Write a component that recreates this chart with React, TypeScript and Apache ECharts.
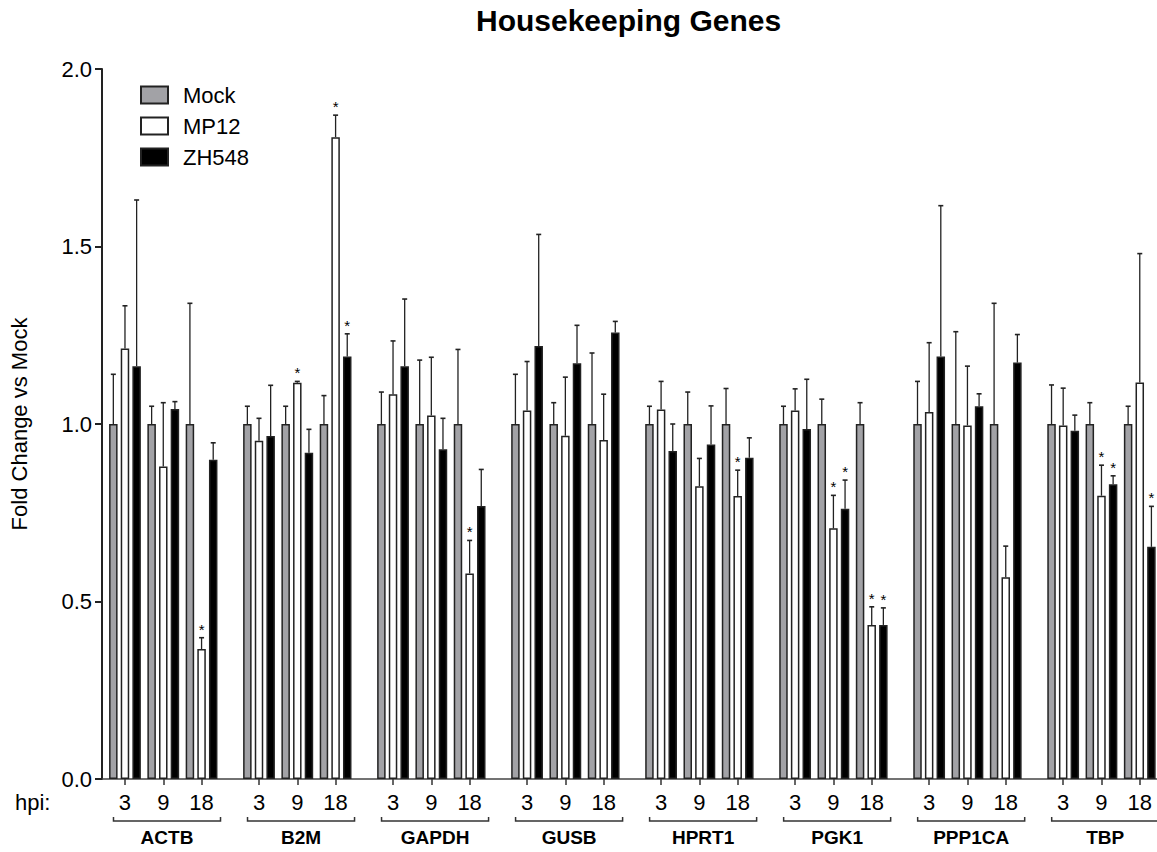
import React, { useEffect, useRef } from 'react';
import * as echarts from 'echarts';

const genes = ['ACTB', 'B2M', 'GAPDH', 'GUSB', 'HPRT1', 'PGK1', 'PPP1CA', 'TBP'];
const hpiLabels = ['3', '9', '18'];
const seriesNames = ['Mock', 'MP12', 'ZH548'];
const yTicks = [0, 0.5, 1.0, 1.5, 2.0];

// mean fold change per gene (rows) and hpi 3 / 9 / 18 (columns)
const mockMean = [
  [1, 1, 1], [1, 1, 1], [1, 1, 1], [1, 1, 1],
  [1, 1, 1], [1, 1, 1], [1, 1, 1], [1, 1, 1],
];
const mockErr = [
  [0.14, 0.05, 0.34], [0.05, 0.05, 0.08], [0.09, 0.18, 0.21], [0.14, 0.06, 0.2],
  [0.05, 0.09, 0.1], [0.05, 0.07, 0.06], [0.12, 0.26, 0.34], [0.11, 0.06, 0.05],
];
const mp12Mean = [
  [1.213, 0.88, 0.366], [0.953, 1.116, 1.808], [1.084, 1.024, 0.579], [1.038, 0.967, 0.955],
  [1.041, 0.825, 0.797], [1.038, 0.706, 0.434], [1.034, 0.996, 0.568], [0.996, 0.798, 1.117],
];
const mp12Err = [
  [0.12, 0.18, 0.032], [0.063, 0.004, 0.062], [0.15, 0.164, 0.093], [0.138, 0.165, 0.129],
  [0.079, 0.078, 0.073], [0.061, 0.093, 0.051], [0.195, 0.167, 0.088], [0.105, 0.086, 0.363],
];
const mp12Star = [
  [0, 0, 1], [0, 1, 1], [0, 0, 1], [0, 0, 0],
  [0, 0, 1], [0, 1, 1], [0, 0, 0], [0, 1, 0],
];
const zh548Mean = [
  [1.163, 1.042, 0.899], [0.966, 0.919, 1.19], [1.163, 0.929, 0.769], [1.22, 1.171, 1.258],
  [0.924, 0.942, 0.905], [0.986, 0.761, 0.434], [1.19, 1.05, 1.173], [0.981, 0.83, 0.654],
];
const zh548Err = [
  [0.468, 0.021, 0.048], [0.143, 0.066, 0.064], [0.189, 0.087, 0.103], [0.314, 0.107, 0.031],
  [0.076, 0.109, 0.056], [0.14, 0.081, 0.048], [0.425, 0.035, 0.079], [0.044, 0.024, 0.114],
];
const zh548Star = [
  [0, 0, 0], [0, 0, 1], [0, 0, 0], [0, 0, 0],
  [0, 0, 0], [0, 1, 1], [0, 0, 0], [0, 1, 1],
];

const FONT = '"Liberation Sans", Arial, Helvetica, sans-serif';
const BAR_W = 8.5;
const BAR_GAP = 0.37;
const PITCH = BAR_W * (1 + BAR_GAP);
const SLOTS_PER_GENE = 7;

const groupX = (gi: number, ti: number) => gi * SLOTS_PER_GENE + 1 + 2 * ti;

const groupCenters: number[] = [];
const groupLabelMap: Record<string, string> = {};
genes.forEach((_, gi) =>
  hpiLabels.forEach((h, ti) => {
    const x = groupX(gi, ti);
    groupCenters.push(x);
    groupLabelMap[String(x)] = h;
  })
);

const seriesMeans = [mockMean, mp12Mean, zh548Mean];
const seriesErrs = [mockErr, mp12Err, zh548Err];
const seriesStars = [null, mp12Star, zh548Star];
const fills = ['#a2a2a6', '#ffffff', '#000000'];

export default function App() {
  const ref = useRef<HTMLDivElement>(null);
  useEffect(() => {
    if (!ref.current) return;
    const chart = echarts.init(ref.current, undefined, { renderer: 'svg' });

    const barSeries = seriesNames.map((name, si) => ({
      type: 'bar',
      name,
      barWidth: BAR_W,
      barGap: `${BAR_GAP * 100}%`,
      itemStyle: { color: fills[si], borderColor: '#222', borderWidth: 1.5 },
      data: genes.flatMap((_, gi) =>
        hpiLabels.map((__, ti) => [groupX(gi, ti), seriesMeans[si][gi][ti]])
      ),
      z: 2,
    }));

    const errSeries = seriesNames.map((_, si) => ({
      type: 'custom',
      silent: true,
      z: 4,
      encode: { x: 0, y: [1, 2] },
      data: genes.flatMap((__, gi) =>
        hpiLabels.map((___, ti) => {
          const m = seriesMeans[si][gi][ti];
          const st = seriesStars[si] ? (seriesStars[si] as number[][])[gi][ti] : 0;
          return [groupX(gi, ti), m, m + seriesErrs[si][gi][ti], st];
        })
      ),
      renderItem: (params: any, api: any) => {
        const x = api.value(0);
        const p0 = api.coord([x, api.value(1)]);
        const p1 = api.coord([x, api.value(2)]);
        const cx = p0[0] + (si - 1) * PITCH;
        const children: any[] = [
          { type: 'line', shape: { x1: cx, y1: p0[1], x2: cx, y2: p1[1] }, style: { stroke: '#222', lineWidth: 1.3 } },
          { type: 'line', shape: { x1: cx - 2.5, y1: p1[1], x2: cx + 2.5, y2: p1[1] }, style: { stroke: '#222', lineWidth: 1.6 } },
        ];
        if (api.value(3)) {
          children.push({
            type: 'text',
            style: { text: '*', x: cx, y: p1[1] - 1, align: 'center', verticalAlign: 'bottom', fontSize: 15, fontFamily: FONT, fill: '#000' },
          });
        }
        return { type: 'group', children };
      },
    }));

    const bracketSeries = {
      type: 'custom',
      silent: true,
      encode: { x: 0, y: 1 },
      data: genes.map((_, gi) => [groupX(gi, 1), 0, gi]),
      renderItem: (params: any, api: any) => {
        const gi = api.value(2);
        const l = api.coord([groupX(gi, 0) - 0.6, 0]);
        const r = api.coord([groupX(gi, 2) + 0.99, 0]);
        const y = l[1] + 42;
        return {
          type: 'group',
          children: [
            {
              type: 'polyline',
              shape: { points: [[l[0], y - 4], [l[0], y], [r[0], y], [r[0], y - 4]] },
              style: { stroke: '#333', lineWidth: 1.5, fill: null },
            },
            {
              type: 'text',
              style: {
                text: genes[gi], x: (l[0] + r[0]) / 2, y: y + 16, align: 'center', verticalAlign: 'middle',
                fontSize: 19, fontWeight: 'bold', fontFamily: FONT, fill: '#000',
              },
            },
          ],
        };
      },
    };

    chart.setOption({
      animation: false,
      backgroundColor: '#fff',
      textStyle: { fontFamily: FONT, color: '#000' },
      title: {
        text: 'Housekeeping Genes',
        left: 476,
        top: 5,
        padding: 0,
        textStyle: { fontSize: 30, fontWeight: 'bold', color: '#000', fontFamily: FONT, lineHeight: 30 },
      },
      legend: {
        data: seriesNames,
        orient: 'vertical',
        left: 140,
        top: 84,
        padding: 0,
        icon: 'rect',
        itemWidth: 27,
        itemHeight: 17,
        itemGap: 9,
        textStyle: { fontSize: 22, color: '#000', fontFamily: FONT, lineHeight: 22, padding: [0, 0, 0, 10] },
      },
      grid: { left: 97, right: 0, top: 69, bottom: 73, containLabel: false },
      xAxis: {
        type: 'value',
        min: -0.2,
        max: 54.9,
        splitLine: { show: false },
        axisLine: { show: true, onZero: true, lineStyle: { color: '#444', width: 1.5 } },
        axisTick: { show: true, length: 6, customValues: groupCenters, lineStyle: { color: '#333', width: 1.5 } },
        axisLabel: {
          customValues: groupCenters,
          formatter: (v: number) => groupLabelMap[String(v)] ?? '',
          fontSize: 22,
          color: '#000',
          margin: 12,
          fontFamily: FONT,
        },
      },
      yAxis: {
        type: 'value',
        min: 0,
        max: 2,
        interval: 0.5,
        name: 'Fold Change vs Mock',
        nameLocation: 'middle',
        nameGap: 72,
        nameTextStyle: { fontSize: 22, color: '#000', fontFamily: FONT },
        splitLine: { show: false },
        axisLine: { show: true, onZero: false, lineStyle: { color: '#222', width: 2 } },
        axisTick: { show: true, length: 7, lineStyle: { color: '#222', width: 2 } },
        axisLabel: {
          fontSize: 22,
          color: '#000',
          margin: 10,
          fontFamily: FONT,
          formatter: (v: number) => (yTicks.includes(v) ? v.toFixed(1) : ''),
        },
      },
      graphic: [
        {
          type: 'text',
          left: 15,
          top: 791,
          style: { text: 'hpi:', fontSize: 22, fill: '#000', fontFamily: FONT },
        },
      ],
      series: [...barSeries, ...errSeries, bracketSeries],
    });
    return () => chart.dispose();
  }, []);
  return <div ref={ref} style={{ position: 'fixed', left: 0, top: 0, width: 1157, height: 852 }} />;
}
